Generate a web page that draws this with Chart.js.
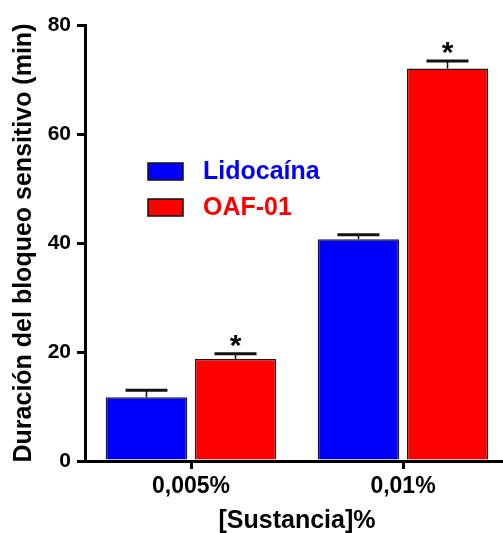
<!DOCTYPE html>
<html>
<head>
<meta charset="utf-8">
<script src="https://cdn.jsdelivr.net/npm/chart.js@4/dist/chart.umd.min.js"></script>
<style>
  html, body { margin: 0; padding: 0; background: #fff; overflow: hidden; }
  #wrap { width: 503px; height: 533px; overflow: hidden; position: relative; }
  canvas { display: block; }
</style>
</head>
<body>
<div id="wrap"><canvas id="barChart" width="509" height="533" style="width:509px;height:533px"></canvas></div>
<script>
// --- data ---
const categories = ['0,005%', '0,01%'];
const seriesNames = ['Lidocaína', 'OAF-01'];
const lidocainaMean = [11.7, 40.7];
const lidocainaUpper = [13.0, 41.5];   // mean + SEM
const oafMean = [18.7, 72.0];
const oafUpper = [19.7, 73.4];
const oafSignif = ['*', '*'];
const lidoSignif = ['', ''];
const yTicks = [0, 20, 40, 60, 80];

const FONT = "'Liberation Sans', Arial, sans-serif";
const BLUE = '#0000ff';
const RED = '#ff0000';

// error bars (upper only) + significance stars
const errorBarPlugin = {
    id: 'errorBars',
    afterDatasetsDraw(chart) {
        const ctx = chart.ctx;
        const yScale = chart.scales.y;
        chart.data.datasets.forEach((ds, di) => {
            const meta = chart.getDatasetMeta(di);
            meta.data.forEach((bar, i) => {
                const yTop = yScale.getPixelForValue(ds.upper[i]);
                ctx.save();
                ctx.strokeStyle = '#111';
                ctx.lineWidth = 1.5;
                ctx.beginPath();
                ctx.moveTo(bar.x, bar.y);
                ctx.lineTo(bar.x, yTop);
                ctx.stroke();
                ctx.lineWidth = 3;
                ctx.beginPath();
                ctx.moveTo(bar.x - 21, yTop);
                ctx.lineTo(bar.x + 21, yTop);
                ctx.stroke();
                if (ds.signif[i]) {
                    ctx.fillStyle = '#000';
                    ctx.font = 'bold 30px ' + FONT;
                    ctx.textAlign = 'center';
                    ctx.textBaseline = 'alphabetic';
                    ctx.fillText(ds.signif[i], bar.x, yTop + 1);
                }
                ctx.restore();
            });
        });
    }
};

// legend drawn inside the plot area, text coloured like the bars
const insideLegend = {
    id: 'insideLegend',
    afterDraw(chart) {
        const ctx = chart.ctx;
        chart.data.datasets.forEach((ds, di) => {
            const top = 163 + di * 36;
            ctx.save();
            ctx.fillStyle = ds.backgroundColor;
            ctx.fillRect(148, top, 35, 17);
            ctx.strokeStyle = '#111';
            ctx.lineWidth = 1.5;
            ctx.strokeRect(148, top, 35, 17);
            ctx.font = 'bold 25px ' + FONT;
            ctx.textAlign = 'left';
            ctx.textBaseline = 'middle';
            ctx.fillText(ds.label, 203, top + 9);
            ctx.restore();
        });
    }
};

const ctx = document.getElementById('barChart').getContext('2d');
window.barChart = new Chart(ctx, {
    type: 'bar',
    data: {
        labels: categories,
        datasets: [{
            label: seriesNames[0],
            data: lidocainaMean,
            upper: lidocainaUpper,
            signif: lidoSignif,
            backgroundColor: BLUE,
            borderColor: '#1a1a1a',
            borderWidth: 1.5,
            categoryPercentage: 0.84,
            barPercentage: 0.915
        }, {
            label: seriesNames[1],
            data: oafMean,
            upper: oafUpper,
            signif: oafSignif,
            backgroundColor: RED,
            borderColor: '#1a1a1a',
            borderWidth: 1.5,
            categoryPercentage: 0.84,
            barPercentage: 0.915
        }]
    },
    options: {
        responsive: false,
        animation: false,
        layout: { padding: { top: 25, left: 0, right: 0, bottom: 0 } },
        plugins: {
            legend: { display: false },
            tooltip: { enabled: false }
        },
        scales: {
            x: {
                type: 'category',
                offset: true,
                grid: { offset: false, drawOnChartArea: false, drawTicks: true, tickLength: 8, color: '#000', lineWidth: 3 },
                border: { display: true, color: '#000', width: 3 },
                ticks: { color: '#000', font: { family: FONT, size: 23, weight: 'bold' }, padding: 4 },
                title: {
                    display: true, text: '[Sustancia]%', color: '#000',
                    font: { family: FONT, size: 25, weight: 'bold', lineHeight: 1 },
                    padding: { top: 0, bottom: -1 }
                },
                afterFit(scale) { scale.height = 72; }
            },
            y: {
                min: 0,
                max: 80,
                afterBuildTicks(scale) { scale.ticks = yTicks.map(v => ({ value: v })); },
                grid: { drawOnChartArea: false, drawTicks: true, tickLength: 8, color: '#000', lineWidth: 3 },
                border: { display: true, color: '#000', width: 3 },
                ticks: { color: '#000', font: { family: FONT, size: 21, weight: 'bold' }, padding: 6 },
                title: {
                    display: true, text: 'Duración del bloqueo sensitivo (min)', color: '#000',
                    font: { family: FONT, size: 25, weight: 'bold', lineHeight: 1.2 },
                    padding: { top: 9, bottom: 0 }
                },
                afterFit(scale) { scale.width = 85; }
            }
        }
    },
    plugins: [errorBarPlugin, insideLegend]
});
</script>
</body>
</html>
